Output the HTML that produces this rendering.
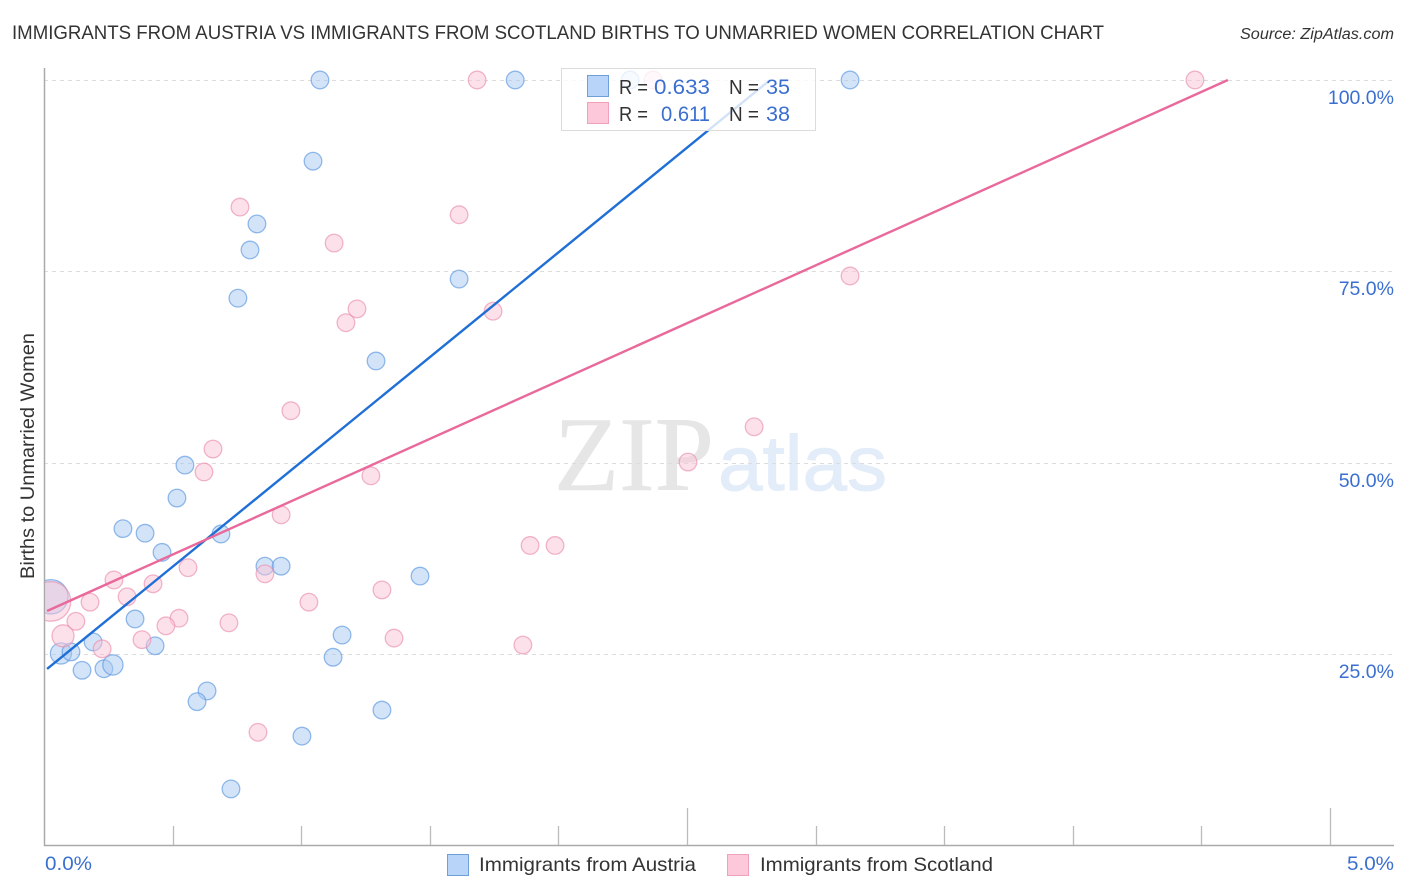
<!DOCTYPE html>
<html lang="en">
<head>
<meta charset="utf-8">
<title>Immigrants from Austria vs Immigrants from Scotland Births to Unmarried Women Correlation Chart</title>
<style>
html,body{margin:0;padding:0;background:#fff;width:1406px;height:892px;overflow:hidden}
svg{display:block;font-family:"Liberation Sans",sans-serif}
</style>
</head>
<body>
<svg id="chart" width="1406" height="892" viewBox="0 0 1406 892" xmlns="http://www.w3.org/2000/svg">
  <defs>
    <clipPath id="plot-clip"><rect x="45" y="60" width="1349" height="785"/></clipPath>
  </defs>
  <text x="12" y="39" font-size="19.5" fill="#333" textLength="1092" lengthAdjust="spacingAndGlyphs">IMMIGRANTS FROM AUSTRIA VS IMMIGRANTS FROM SCOTLAND BIRTHS TO UNMARRIED WOMEN CORRELATION CHART</text>
  <text x="1394" y="39" font-size="15.5" font-style="italic" fill="#333" text-anchor="end" textLength="154" lengthAdjust="spacingAndGlyphs">Source: ZipAtlas.com</text>
  <g>
    <text x="554" y="490" font-family="'Liberation Serif',serif" font-size="106" fill="#e6e6e6" stroke="#e6e6e6" stroke-width="0.6" textLength="160" lengthAdjust="spacingAndGlyphs">ZIP</text>
    <text x="718" y="490" font-size="78" fill="#e3edf9" stroke="#e3edf9" stroke-width="1" textLength="169" lengthAdjust="spacingAndGlyphs">atlas</text>
  </g>
  <g id="grid"></g>
  <g id="axes"></g>
  <g id="austria-points" clip-path="url(#plot-clip)"></g>
  <g id="scotland-points" clip-path="url(#plot-clip)"></g>
  <g id="trends"></g>
  <g>
    <rect x="561.5" y="68.5" width="254" height="62" fill="#fff" fill-opacity="0.8" stroke="#dcdcdc"/>
    <rect x="587.5" y="75.5" width="21" height="21" fill="#b8d4f8" stroke="#6f9fd8"/>
    <rect x="587.5" y="102.5" width="21" height="21" fill="#fdc8da" stroke="#f0a0ba"/>
    <text x="619" y="94" font-size="20" fill="#333" textLength="29" lengthAdjust="spacingAndGlyphs">R =</text>
    <text x="654" y="94" font-size="21" fill="#3a6fd0" textLength="56" lengthAdjust="spacingAndGlyphs">0.633</text>
    <text x="729" y="94" font-size="20" fill="#333" textLength="30" lengthAdjust="spacingAndGlyphs">N =</text>
    <text x="766" y="94" font-size="21" fill="#3a6fd0" textLength="24" lengthAdjust="spacingAndGlyphs">35</text>
    <text x="619" y="121" font-size="20" fill="#333" textLength="29" lengthAdjust="spacingAndGlyphs">R =</text>
    <text x="661" y="121" font-size="21" fill="#3a6fd0" textLength="49" lengthAdjust="spacingAndGlyphs">0.611</text>
    <text x="729" y="121" font-size="20" fill="#333" textLength="30" lengthAdjust="spacingAndGlyphs">N =</text>
    <text x="766" y="121" font-size="21" fill="#3a6fd0" textLength="24" lengthAdjust="spacingAndGlyphs">38</text>
  </g>
  <text transform="translate(34,456) rotate(-90)" font-size="19" fill="#333" text-anchor="middle" textLength="246" lengthAdjust="spacingAndGlyphs">Births to Unmarried Women</text>
  <text x="45" y="870" font-size="19.5" fill="#3a6fd0" textLength="47" lengthAdjust="spacingAndGlyphs">0.0%</text>
  <text x="1347" y="870" font-size="19.5" fill="#3a6fd0" textLength="47" lengthAdjust="spacingAndGlyphs">5.0%</text>
  <g>
    <rect x="447.5" y="854.5" width="21" height="21" fill="#b8d4f8" stroke="#6f9fd8"/>
    <text x="479" y="871" font-size="19.5" fill="#333" textLength="217" lengthAdjust="spacingAndGlyphs">Immigrants from Austria</text>
    <rect x="727.5" y="854.5" width="21" height="21" fill="#fdc8da" stroke="#f0a0ba"/>
    <text x="760" y="871" font-size="19.5" fill="#333" textLength="233" lengthAdjust="spacingAndGlyphs">Immigrants from Scotland</text>
  </g>
</svg>
<script>
const austriaX = [1.071,1.83,2.277,3.132,1.044,0.826,0.799,1.612,0.752,1.289,0.546,0.515,0.305,0.391,0.686,0.457,0.857,0.92,1.46,0.352,1.157,0.43,1.122,0.189,0.064,0.103,0.146,0.231,0.266,0.632,0.593,1.312,1.001,0.725,0.025];
const austriaY = [100,100,100,100,89.4,81.2,77.8,74.0,71.5,63.3,49.7,45.4,41.4,40.8,40.7,38.3,36.5,36.5,35.2,29.6,27.5,26.1,24.6,26.6,25.1,25.3,22.9,23.1,23.6,20.2,18.8,17.7,14.3,7.4,32.5];
const austriaWeight = [1,1,1,1,1,1,1,1,1,1,1,1,1,1,1,1,1,1,1,1,1,1,1,1,1.2,1,1,1,1.15,1,1,1,1,1,1.95];
const scotlandX = [1.682,2.366,4.473,0.76,1.612,1.126,3.132,1.215,1.172,1.744,0.958,2.759,0.655,0.62,1.269,2.502,0.92,1.888,1.985,0.558,0.857,0.27,0.422,1.312,0.321,0.177,1.028,0.523,0.472,0.122,0.717,0.379,0.072,0.224,1.359,1.86,0.83,0.025];
const scotlandY = [100,100,100,83.4,82.4,78.7,74.4,70.1,68.3,69.8,56.8,54.7,51.8,48.8,48.3,50.1,43.2,39.2,39.2,36.3,35.5,34.7,34.2,33.4,32.5,31.8,31.8,29.7,28.7,29.3,29.1,26.9,27.4,25.7,27.1,26.2,14.8,31.9];
const scotlandWeight = [1,1,1,1,1,1,1,1,1,1,1,1,1,1,1,1,1,1,1,1,1,1,1,1,1,1,1,1,1,1,1,1,1.25,1,1,1,1,2.25];
const austriaTrendX = [0.01,2.821];
const austriaTrendY = [23.07,100];
const scotlandTrendX = [0.01,4.601];
const scotlandTrendY = [30.64,100];
const yTickValues = [25,50,75,100];
const yTickLabels = ["25.0%","50.0%","75.0%","100.0%"];
const xTickValues = [0.5,1,1.5,2,2.5,3,3.5,4,4.5,5];
const xMajorTicks = [2.5,5];

const NS = "http://www.w3.org/2000/svg";
const xScale = v => 44.5 + v * 257.2;
const yScale = v => 845.6 - v * 7.656;
const pointRadius = 8.8;

function svgEl(tag, attrs, parent) {
  const el = document.createElementNS(NS, tag);
  for (const k in attrs) el.setAttribute(k, attrs[k]);
  parent.appendChild(el);
  return el;
}

const grid = document.getElementById("grid");
const axes = document.getElementById("axes");

yTickValues.forEach((v, i) => {
  const y = Math.round(yScale(v)) + 0.5;
  const line = svgEl("line", {x1: 44, x2: 1394, y1: y, y2: y, stroke: "#dcdcdc", "stroke-dasharray": "4 4"}, grid);
  
  
  const label = svgEl("text", {x: 1394, y: y + 23.5, "font-size": 19.5, fill: "#3a6fd0", "text-anchor": "end"}, axes);
  label.textContent = yTickLabels[i];
  
  
});

const yAxis = svgEl("line", {x1: 44.5, x2: 44.5, y1: 68, y2: 846, stroke: "#aaa", "stroke-width": 1.5}, axes);


const xAxis = svgEl("line", {x1: 44, x2: 1394, y1: 845.5, y2: 845.5, stroke: "#aaa", "stroke-width": 1.5}, axes);



xTickValues.forEach(v => {
  const x = Math.floor(xScale(v)) + 0.5;
  const major = xMajorTicks.includes(v);
  const tick = svgEl("line", {x1: x, x2: x, y1: major ? 808 : 826, y2: 845, stroke: "#bbb", "stroke-width": 1.3}, axes);
  
  
});

function drawPoints(groupId, xs, ys, weights, fill, stroke, markName) {
  const g = document.getElementById(groupId);
  xs.forEach((v, i) => {
    const c = svgEl("circle", {
      cx: xScale(v), cy: yScale(ys[i]), r: pointRadius * weights[i],
      fill: fill, "fill-opacity": 0.5, stroke: stroke, "stroke-opacity": 0.65, "stroke-width": 1.3
    }, g);
    
    
  });
}
drawPoints("austria-points", austriaX, austriaY, austriaWeight, "#a9c9f2", "#5b96e0", "austria-point");
drawPoints("scotland-points", scotlandX, scotlandY, scotlandWeight, "#fbc4d6", "#ea8fae", "scotland-point");

const trends = document.getElementById("trends");
const austriaLine = svgEl("line", {
  x1: xScale(austriaTrendX[0]), y1: yScale(austriaTrendY[0]),
  x2: xScale(austriaTrendX[1]), y2: yScale(austriaTrendY[1]),
  stroke: "#1f6fd6", "stroke-width": 2.4
}, trends);


const scotlandLine = svgEl("line", {
  x1: xScale(scotlandTrendX[0]), y1: yScale(scotlandTrendY[0]),
  x2: xScale(scotlandTrendX[1]), y2: yScale(scotlandTrendY[1]),
  stroke: "#e9699a", "stroke-width": 2.4
}, trends);


</script>
</body>
</html>
